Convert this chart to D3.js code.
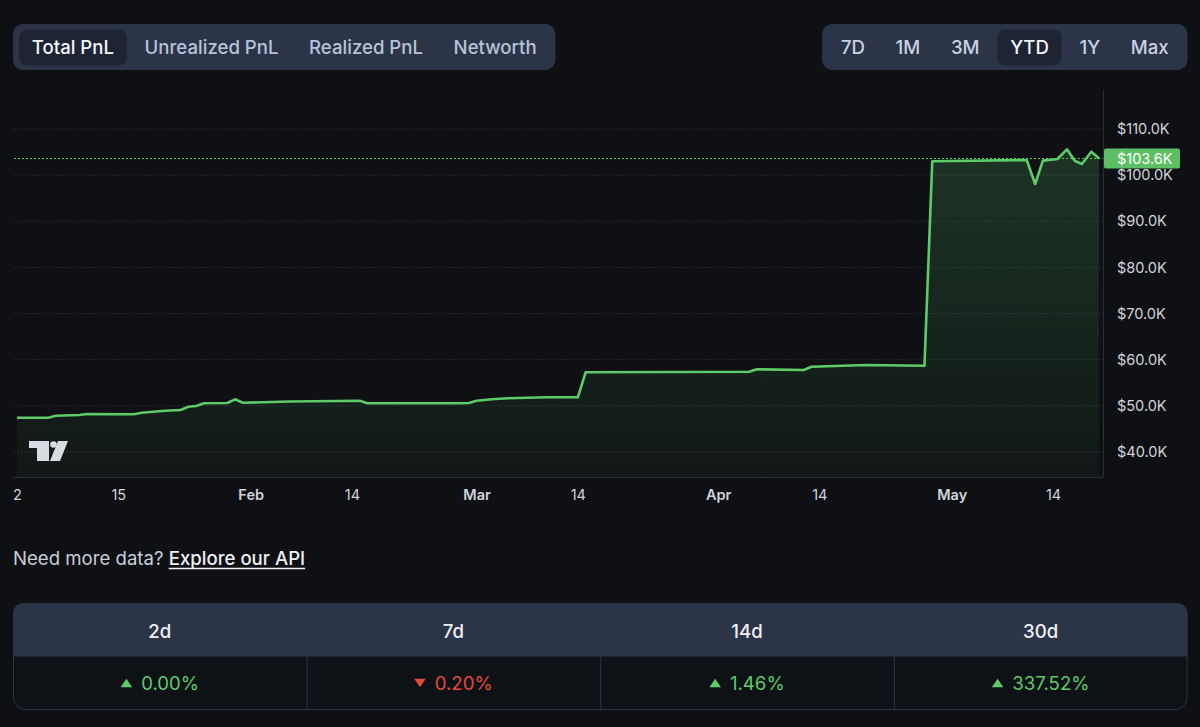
<!DOCTYPE html>
<html>
<head>
<meta charset="utf-8">
<script src="https://cdn.jsdelivr.net/npm/d3@7"></script>
<style>
  html, body { margin: 0; background: #0e1014; }
  svg { display: block; font-family: Inter, "Noto Sans", sans-serif; }
</style>
</head>
<body>
<svg id="chart" width="1200" height="727"></svg>
<script>
// chart data
const metricTabs = ["Total PnL", "Unrealized PnL", "Realized PnL", "Networth"];
const rangeTabs = ["7D", "1M", "3M", "YTD", "1Y", "Max"];

const pnlDates = ["2024-01-02","2024-01-06","2024-01-07","2024-01-10","2024-01-11","2024-01-17",
  "2024-01-18","2024-01-21","2024-01-23","2024-01-24","2024-01-25","2024-01-26","2024-01-29",
  "2024-01-30","2024-01-31","2024-02-06","2024-02-15","2024-02-16","2024-02-28","2024-02-29",
  "2024-03-01","2024-03-03","2024-03-05","2024-03-10","2024-03-14","2024-03-15","2024-04-05",
  "2024-04-06","2024-04-12","2024-04-13","2024-04-20","2024-04-27T12:00","2024-04-28T12:00",
  "2024-05-10T15:00","2024-05-11T17:00","2024-05-12T17:00","2024-05-14T14:00","2024-05-15T19:00",
  "2024-05-16T19:00","2024-05-17T17:00","2024-05-18T22:00","2024-05-19T22:00"];
const pnlValues = [47430,47430,47870,48020,48240,48170,48520,48950,49100,49820,49970,50560,50620,
  51420,50680,50940,51120,50550,50570,50620,51120,51420,51640,51860,51860,57270,57400,57920,57770,
  58490,58860,58700,103000,103280,98080,103150,103500,105600,103130,102420,105080,103600];

const yTicks = [40000, 50000, 60000, 70000, 80000, 90000, 100000, 110000];
const xTickDates = ["2024-01-02","2024-01-15","2024-02-01","2024-02-14","2024-03-01",
  "2024-03-14","2024-04-01","2024-04-14","2024-05-01","2024-05-14"];
const xTickLabels = ["2","15","Feb","14","Mar","14","Apr","14","May","14"];

const periods = ["2d", "7d", "14d", "30d"];
const changes = [0.00, -0.20, 1.46, 337.52];

const svg = d3.select("#chart");
const plot = {left: 14, right: 1103, top: 90, bottom: 477};
const green = "#5ccb68", red = "#e5493a", panel = "#2c3548", axisText = "#d1d4dc";
const uiSize = 18.6;

const parse = s => (s.length > 10 ? d3.utcParse("%Y-%m-%dT%H:%M") : d3.utcParse("%Y-%m-%d"))(s);
const data = pnlDates.map((d, i) => ({date: parse(d), value: pnlValues[i]}));

const x = d3.scaleUtc().domain([parse("2024-01-02"), parse("2024-05-14")]).range([17, 1053]);
const y = d3.scaleLinear().domain([40000, 110000]).range([452, 129]);

// tab groups
function drawTabs(labels, active, anchorX, alignRight, weight, color) {
  const g = svg.append("g");
  const pad = 12.8, gap = 5, inset = 6;
  const widths = labels.map(l => {
    const t = g.append("text").attr("font-size", uiSize).attr("font-weight", weight).text(l);
    const w = t.node().getComputedTextLength();
    t.remove();
    return w + 2 * pad;
  });
  const total = d3.sum(widths) + gap * (labels.length - 1) + inset * 2;
  const bx = alignRight ? anchorX - total : anchorX;
  g.append("rect").attr("x", bx).attr("y", 24).attr("width", total).attr("height", 46)
    .attr("rx", 10).attr("fill", panel);
  let cx = bx + inset;
  labels.forEach((l, i) => {
    if (l === active) {
      g.append("rect").attr("x", cx).attr("y", 29.5).attr("width", widths[i]).attr("height", 36)
        .attr("rx", 8).attr("fill", "#1d2434");
    }
    g.append("text").attr("x", cx + widths[i] / 2).attr("y", 47).attr("dy", "0.35em")
      .attr("text-anchor", "middle").attr("font-size", uiSize).attr("font-weight", weight)
      .attr("fill", l === active ? "#f4f6fa" : color).text(l);
    cx += widths[i] + gap;
  });
}
drawTabs(metricTabs, "Total PnL", 13, false, 500, "#b7c3da");
drawTabs(rangeTabs, "YTD", 1187.5, true, 500, "#c9d2e3");

// chart
const defs = svg.append("defs");
defs.append("clipPath").attr("id", "plot-clip").append("rect")
  .attr("x", plot.left).attr("y", plot.top)
  .attr("width", plot.right - plot.left).attr("height", plot.bottom - plot.top);

const grad = defs.append("linearGradient").attr("id", "area-grad")
  .attr("gradientUnits", "userSpaceOnUse")
  .attr("x1", 0).attr("x2", 0).attr("y1", y(d3.max(pnlValues))).attr("y2", plot.bottom);
grad.append("stop").attr("offset", 0).attr("stop-color", green).attr("stop-opacity", 0.19);
grad.append("stop").attr("offset", 1).attr("stop-color", green).attr("stop-opacity", 0.04);

svg.append("g").selectAll("line").data(yTicks).join("line")
  .attr("x1", plot.left).attr("x2", plot.right)
  .attr("y1", d => y(d)).attr("y2", d => y(d))
  .attr("stroke", "#2c313d").attr("stroke-dasharray", "1.5,2");

const chartG = svg.append("g").attr("clip-path", "url(#plot-clip)");
chartG.append("path").datum(data)
  .attr("d", d3.area().x(d => x(d.date)).y0(plot.bottom).y1(d => y(d.value)))
  .attr("fill", "url(#area-grad)");
chartG.append("path").datum(data)
  .attr("d", d3.line().x(d => x(d.date)).y(d => y(d.value)))
  .attr("fill", "none").attr("stroke", green).attr("stroke-width", 2.6)
  .attr("stroke-linejoin", "round");

// last value line
const last = pnlValues[pnlValues.length - 1];
svg.append("line").attr("x1", plot.left).attr("x2", plot.right)
  .attr("y1", y(last)).attr("y2", y(last))
  .attr("stroke", green).attr("stroke-width", 1).attr("stroke-dasharray", "2,2");

// axes frame
svg.append("line").attr("x1", plot.right + 0.5).attr("x2", plot.right + 0.5)
  .attr("y1", plot.top).attr("y2", plot.bottom).attr("stroke", "#2a2e39");
svg.append("line").attr("x1", 13).attr("x2", plot.right)
  .attr("y1", plot.bottom + 0.5).attr("y2", plot.bottom + 0.5).attr("stroke", "#2a2e39");

const yAxis = svg.append("g").attr("transform", `translate(${plot.right},0)`)
  .call(d3.axisRight(y).tickValues(yTicks).tickSize(0).tickPadding(14)
    .tickFormat(d => "$" + (d / 1000).toFixed(1) + "K"));
yAxis.select(".domain").remove();
yAxis.selectAll("text").attr("font-size", 14.5).attr("font-family", "Inter, sans-serif").attr("fill", axisText);

const xAxis = svg.append("g").attr("transform", `translate(0,${plot.bottom})`)
  .call(d3.axisBottom(x).tickValues(xTickDates.map(parse)).tickSize(0).tickPadding(13)
    .tickFormat((d, i) => xTickLabels[i]));
xAxis.select(".domain").remove();
xAxis.selectAll("text").attr("font-size", 14.5).attr("font-family", "Inter, sans-serif")
  .attr("fill", axisText)
  .attr("font-weight", (d, i) => isNaN(+xTickLabels[i]) ? 600 : 400);

// price label
const lab = svg.append("g").attr("transform", `translate(${plot.right + 1},${y(last)})`);
lab.append("rect").attr("x", 0).attr("y", -10).attr("width", 76).attr("height", 20)
  .attr("rx", 2).attr("fill", "#5cbf63");
lab.append("text").attr("x", 13).attr("dy", "0.35em").attr("font-size", 14.5)
  .attr("fill", "#ffffff").text("$" + (last / 1000).toFixed(1) + "K");

// logo
const logo = svg.append("g").attr("transform", "translate(29,441)").attr("fill", "#d8dbe2");
logo.append("path").attr("d", "M0 0H20V20H8V7H0Z");
logo.append("circle").attr("cx", 24.5).attr("cy", 3.5).attr("r", 3.3);
logo.append("path").attr("d", "M29 0H39L31 20H21Z");

// footer link
const note = svg.append("text").attr("x", 13).attr("y", 565).attr("font-size", uiSize);
note.append("tspan").attr("fill", "#c8cedb").text("Need more data? ");
note.append("tspan").attr("fill", "#eef0f4").attr("font-weight", 500).text("Explore our API");
const noteBox = note.node().getBBox();
const linkStart = 13 + note.node().getSubStringLength(0, "Need more data? ".length);
svg.append("line").attr("x1", linkStart).attr("x2", noteBox.x + noteBox.width)
  .attr("y1", 568.5).attr("y2", 568.5).attr("stroke", "#eef0f4").attr("stroke-width", 1.4);

// stats table
const tx0 = 13, tx1 = 1187.5, ty0 = 603, tyMid = 656.5, ty1 = 710, r = 12;
const cols = d3.scaleBand().domain(periods).range([tx0, tx1]);
svg.append("rect").attr("x", tx0 + 0.5).attr("y", ty0 + 0.5)
  .attr("width", tx1 - tx0 - 1).attr("height", ty1 - ty0 - 1).attr("rx", r)
  .attr("fill", "#0e1116").attr("stroke", panel);
svg.append("path")
  .attr("d", `M${tx0},${tyMid}V${ty0 + r}Q${tx0},${ty0} ${tx0 + r},${ty0}H${tx1 - r}Q${tx1},${ty0} ${tx1},${ty0 + r}V${tyMid}Z`)
  .attr("fill", panel);
svg.append("g").selectAll("line").data(periods.slice(1)).join("line")
  .attr("x1", d => cols(d) + 0.5).attr("x2", d => cols(d) + 0.5)
  .attr("y1", tyMid).attr("y2", ty1).attr("stroke", panel);

svg.append("g").selectAll("text").data(periods).join("text")
  .attr("x", d => cols(d) + cols.bandwidth() / 2).attr("y", 638)
  .attr("text-anchor", "middle").attr("font-size", uiSize).attr("font-weight", 500)
  .attr("fill", "#eef0f4").text(d => d);

periods.forEach((p, i) => {
  const v = changes[i], up = v >= 0, c = up ? green : red;
  const g = svg.append("g");
  const t = g.append("text").attr("y", 690).attr("font-size", uiSize).attr("fill", c)
    .text(Math.abs(v).toFixed(2) + "%");
  const tw = t.node().getComputedTextLength();
  const triW = 11.5, triH = 8.5, gap = 9;
  const start = cols(p) + cols.bandwidth() / 2 - (triW + gap + tw) / 2;
  t.attr("x", start + triW + gap);
  const ty = 683;
  g.append("path").attr("fill", c).attr("d", up
    ? `M${start},${ty + triH / 2}L${start + triW / 2},${ty - triH / 2}L${start + triW},${ty + triH / 2}Z`
    : `M${start},${ty - triH / 2}L${start + triW / 2},${ty + triH / 2}L${start + triW},${ty - triH / 2}Z`);
});
</script>
</body>
</html>
